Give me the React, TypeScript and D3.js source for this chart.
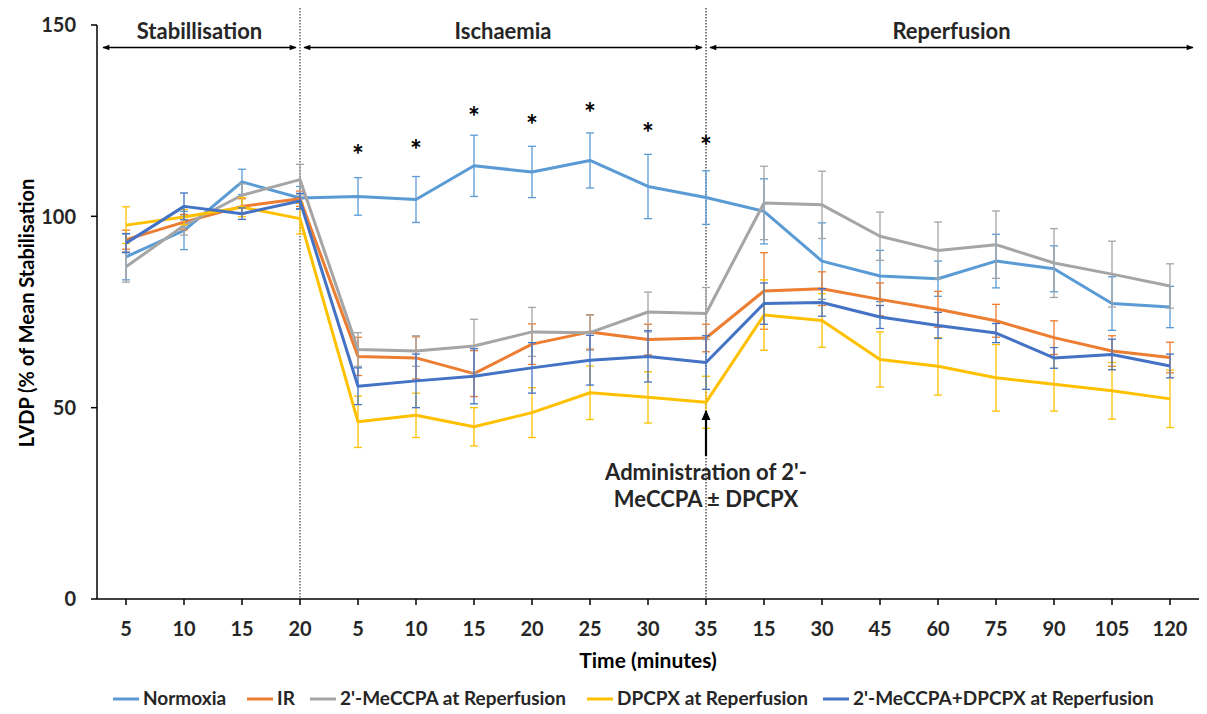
import React from "react";
import * as d3 from "d3";

const categories = ["5", "10", "15", "20", "5", "10", "15", "20", "25", "30", "35", "15", "30", "45", "60", "75", "90", "105", "120"];

const seriesNames = ["Normoxia", "IR", "2'-MeCCPA at Reperfusion", "DPCPX at Reperfusion", "2'-MeCCPA+DPCPX at Reperfusion"];
const seriesColors = ["#5B9BD5", "#ED7D31", "#A5A5A5", "#FFC000", "#4472C4"];

const normoxia = [89.4, 96.3, 109, 104.8, 105.2, 104.4, 113.2, 111.6, 114.6, 107.8, 104.9, 101.3, 88.3, 84.4, 83.7, 88.3, 86.3, 77.2, 76.3];
const normoxiaErr = [6, 5, 3.3, 3, 4.9, 6, 8, 6.7, 7.2, 8.4, 7, 8.5, 10, 6.7, 4.6, 7, 6, 7, 5.4];

const ir = [93.9, 98.5, 102.6, 104.6, 63.4, 63.0, 58.9, 66.6, 69.8, 67.8, 68.2, 80.5, 81.1, 78.3, 75.7, 72.7, 68.3, 64.8, 63.1];
const irErr = [2.5, 2, 2, 2, 5, 5.5, 6, 5.3, 4.5, 4, 3.6, 10, 4.4, 4.3, 4.7, 4.3, 4.4, 4, 4];

const meccpa = [86.8, 97.6, 105.5, 109.6, 65.2, 64.8, 66.1, 69.8, 69.6, 75.0, 74.6, 103.5, 103, 94.8, 91.1, 92.6, 87.8, 84.9, 81.8];
const meccpaErr = [4, 2.5, 3, 4, 4.4, 4, 7, 6.4, 4.6, 5.2, 6.8, 9.6, 8.8, 6.3, 7.4, 8.8, 9, 8.6, 5.8];

const dpcpx = [97.7, 99.8, 102.4, 99.4, 46.3, 48.0, 45.0, 48.7, 53.9, 52.7, 51.4, 74.2, 72.8, 62.6, 60.8, 57.8, 56.1, 54.4, 52.3];
const dpcpxErr = [4.8, 2, 2.5, 4, 6.7, 5.8, 5, 6.5, 7, 6.7, 6.8, 9.2, 7, 7.2, 7.5, 8.7, 7, 7.4, 7.5];

const combo = [93.0, 102.6, 100.7, 104, 55.6, 57.0, 58.2, 60.4, 62.4, 63.4, 61.8, 77.2, 77.5, 73.7, 71.5, 69.5, 63.0, 63.9, 60.9];
const comboErr = [2.5, 3.5, 1.5, 2, 4.8, 7, 7.2, 6.6, 6.5, 6.7, 7, 5.4, 3.6, 3, 3.4, 2.5, 2.7, 4, 3.1];

const seriesValues = [normoxia, ir, meccpa, dpcpx, combo];
const seriesErrors = [normoxiaErr, irErr, meccpaErr, dpcpxErr, comboErr];

const yTicks = [0, 50, 100, 150];

// significance markers: category index and asterisk centre height (value units)
const starIdx = [4, 5, 6, 7, 8, 9, 10];
const starVals = [117.9, 119.3, 128.0, 125.8, 128.9, 123.7, 120.2];

const phases = [
  { label: "Stabillisation", from: 0, to: 3 },
  { label: "Ischaemia", from: 3, to: 10 },
  { label: "Reperfusion", from: 10, to: 18 },
];

const legendX = [113, 247, 310, 587, 823];

const FONT = "Lato, 'Open Sans', sans-serif";

export default function App() {
  const W = 1207, H = 714;
  const x = d3.scalePoint<number>().domain(d3.range(categories.length)).range([97, 1199]).padding(0.5);
  const y = d3.scaleLinear().domain([0, 150]).range([599, 25]);
  const line = d3.line<number>().x((_, i) => x(i)!).y((v) => y(v));

  const arrowY = 47.5;

  return (
    <svg width={W} height={H} style={{ position: "absolute", left: 0, top: 0, background: "#fff" }} fontFamily={FONT}>
      <defs>
        <marker id="ah" viewBox="0 0 10 10" refX="9" refY="5" markerWidth="8" markerHeight="7" orient="auto-start-reverse" markerUnits="userSpaceOnUse">
          <path d="M0,1 L10,5 L0,9 z" fill="#000" />
        </marker>
        <marker id="ah2" viewBox="0 0 10 10" refX="9" refY="5" markerWidth="10" markerHeight="10" orient="auto" markerUnits="userSpaceOnUse">
          <path d="M0,0.5 L10,5 L0,9.5 z" fill="#000" />
        </marker>
      </defs>

      {/* vertical dotted separators */}
      <line x1={x(3)} x2={x(3)} y1={8} y2={599} stroke="#666" strokeWidth={1.5} strokeDasharray="1.5,1.5" />
      <line x1={x(10)} x2={x(10)} y1={8} y2={599} stroke="#555" strokeWidth={1.5} strokeDasharray="1.5,1.5" />

      {/* axes */}
      <line x1={97} x2={97} y1={y(150)} y2={y(0)} stroke="#000" strokeWidth={1.5} />
      <line x1={97} x2={1199} y1={y(0)} y2={y(0)} stroke="#000" strokeWidth={1.5} />
      {yTicks.map((t) => (
        <g key={t}>
          <line x1={91} x2={97} y1={y(t)} y2={y(t)} stroke="#000" strokeWidth={1.5} />
          <text x={76} y={y(t)} dy="0.36em" textAnchor="end" fontSize={20} fontWeight="bold" fill="#262626">{t}</text>
        </g>
      ))}
      {categories.map((c, i) => (
        <g key={i}>
          <line x1={x(i)} x2={x(i)} y1={599} y2={605} stroke="#000" strokeWidth={1.5} />
          <text x={x(i)} y={636} textAnchor="middle" fontSize={20} fontWeight="bold" fill="#262626">{c}</text>
        </g>
      ))}
      <text x={648} y={668} textAnchor="middle" fontSize={21} fontWeight="bold" fill="#000">Time (minutes)</text>
      <text transform={`translate(34,313) rotate(-90)`} textAnchor="middle" fontSize={20} fontWeight="bold" fill="#000">LVDP (% of Mean Stabilisation</text>

      {/* phase annotations */}
      {phases.map((p, i) => {
        const x0 = i === 0 ? 103 : x(p.from)! + 4;
        const x1 = i === 2 ? 1193 : x(p.to)! - 4;
        return (
          <g key={p.label}>
            <line x1={x0} x2={x1} y1={arrowY} y2={arrowY} stroke="#000" strokeWidth={1.5} markerStart="url(#ah)" markerEnd="url(#ah)" />
            <text x={(x0 + x1) / 2} y={39} textAnchor="middle" fontSize={22} fontWeight="bold" fill="#262626">{p.label}</text>
          </g>
        );
      })}

      {/* series */}
      {seriesValues.map((vals, s) => (
        <g key={s}>
          {vals.map((v, i) => {
            const e = seriesErrors[s][i];
            const cx = x(i)!;
            return (
              <g key={i} stroke={seriesColors[s]} strokeWidth={1.3}>
                <line x1={cx} x2={cx} y1={y(v + e)} y2={y(v - e)} />
                <line x1={cx - 4} x2={cx + 4} y1={y(v + e)} y2={y(v + e)} />
                <line x1={cx - 4} x2={cx + 4} y1={y(v - e)} y2={y(v - e)} />
              </g>
            );
          })}
          <path d={line(vals)!} fill="none" stroke={seriesColors[s]} strokeWidth={3} strokeLinejoin="round" />
        </g>
      ))}

      {/* asterisks */}
      {starIdx.map((ci, k) => (
        <text key={ci} x={x(ci)} y={y(starVals[k])} dy="0.62em" textAnchor="middle" fontSize={28} fontWeight="bold" fill="#000">*</text>
      ))}

      {/* administration annotation */}
      <line x1={x(10)} x2={x(10)} y1={456} y2={411} stroke="#000" strokeWidth={2.2} markerEnd="url(#ah2)" />
      <text x={x(10)} y={480} textAnchor="middle" fontSize={22} fontWeight="bold" fill="#262626">Administration of 2'-</text>
      <text x={x(10)} y={507} textAnchor="middle" fontSize={22} fontWeight="bold" fill="#262626">MeCCPA ± DPCPX</text>

      {/* legend */}
      {seriesNames.map((n, i) => (
        <g key={n}>
          <line x1={legendX[i]} x2={legendX[i] + 26} y1={699} y2={699} stroke={seriesColors[i]} strokeWidth={3} />
          <text x={legendX[i] + 30} y={705} fontSize={19} fontWeight="bold" fill="#262626">{n}</text>
        </g>
      ))}
    </svg>
  );
}
